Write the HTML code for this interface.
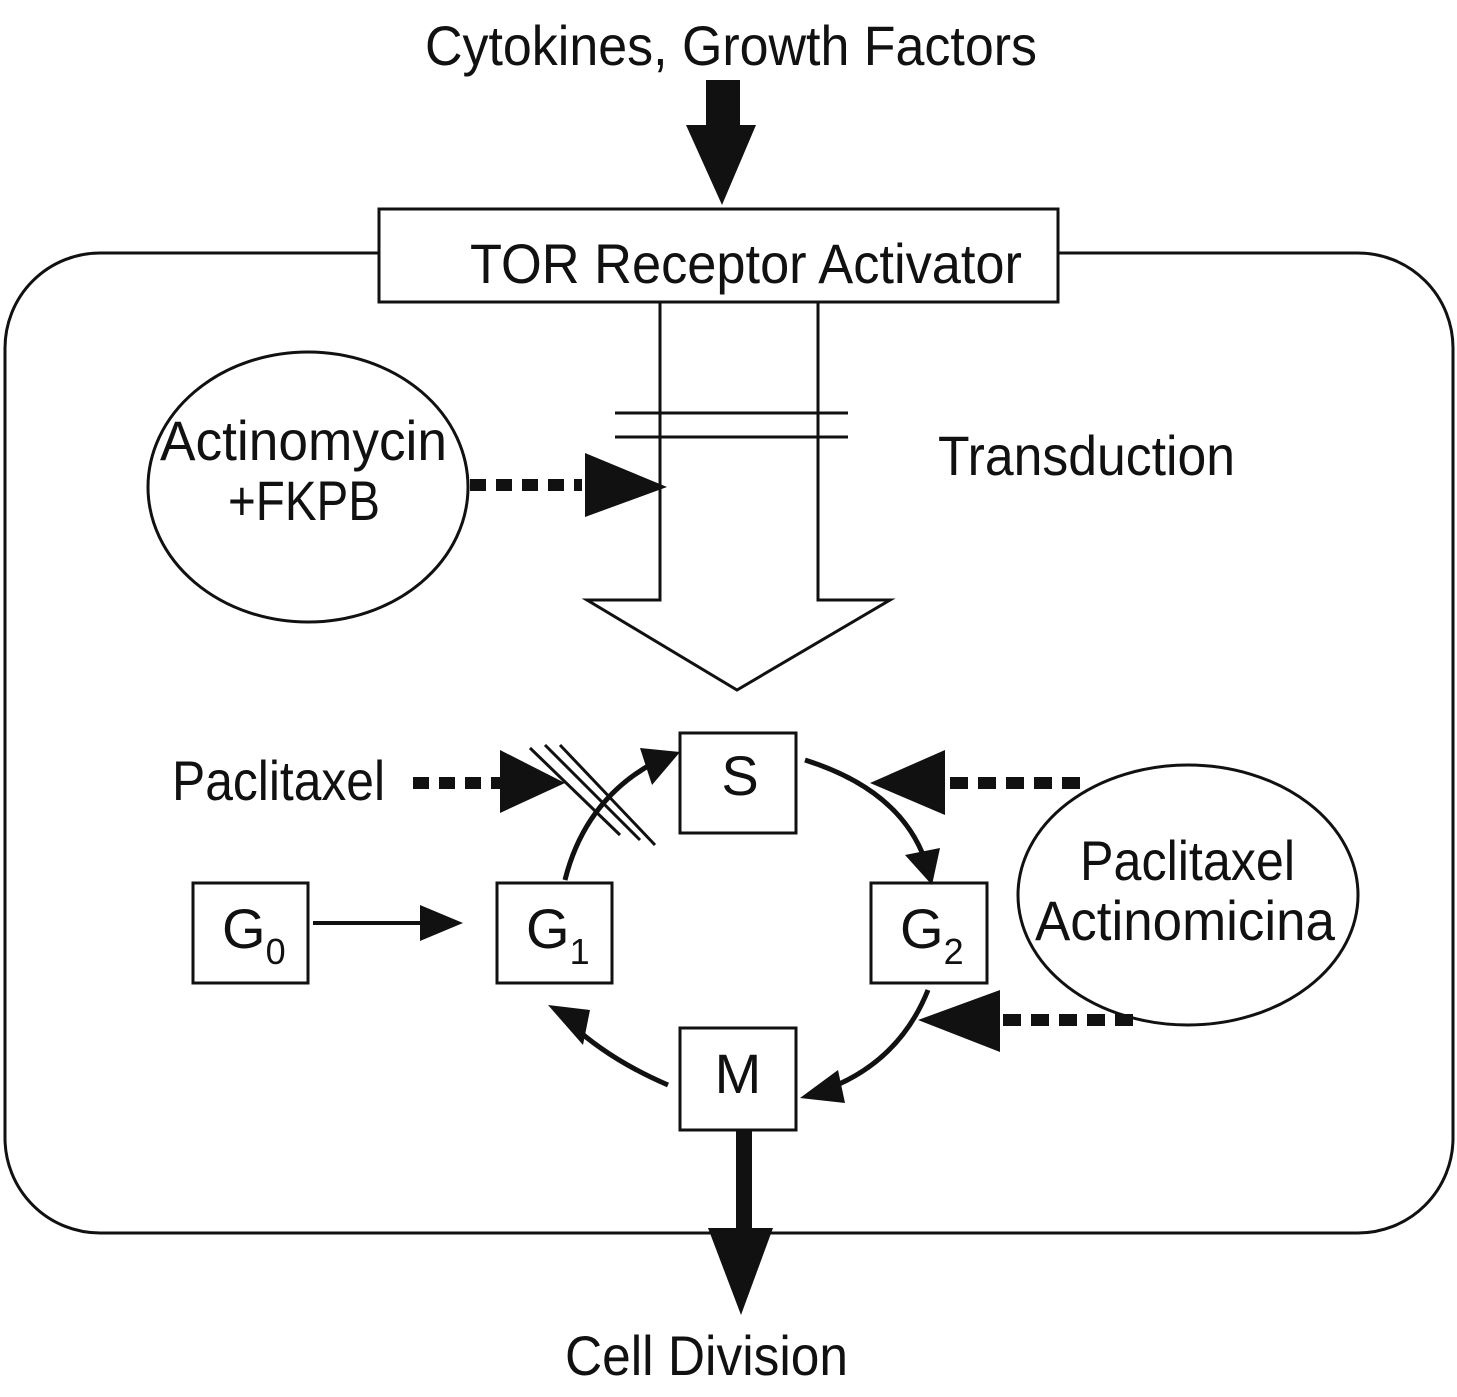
<!DOCTYPE html>
<html><head><meta charset="utf-8"><style>html,body{margin:0;padding:0;background:#fff}svg{display:block}text{font-family:"Liberation Sans Narrow","Liberation Sans",sans-serif;fill:#111}</style></head>
<body>
<svg width="1457" height="1397" viewBox="0 0 1457 1397" xmlns="http://www.w3.org/2000/svg">
<g stroke="#111" fill="none" stroke-width="3">
<rect x="5" y="253" width="1448" height="980" rx="95"/>
<rect x="379" y="209" width="679" height="93" fill="#fff"/>
<polyline points="660,302 660,600 587,600 737,690 890,600 818,600 818,302"/>
<line x1="615" y1="413" x2="848" y2="413"/>
<line x1="615" y1="437" x2="848" y2="437"/>
<ellipse cx="308" cy="487" rx="160" ry="135"/>
<ellipse cx="1188" cy="895" rx="170" ry="130"/>
<rect x="680" y="733" width="116" height="100"/>
<rect x="193" y="883" width="115" height="100"/>
<rect x="497" y="883" width="115" height="100"/>
<rect x="871" y="883" width="116" height="100"/>
<rect x="680" y="1028" width="116" height="102"/>
<line x1="313" y1="923" x2="425" y2="923" stroke-width="4"/>
<path d="M565,880 Q585,800 655,762" stroke-width="5"/>
<path d="M805,760 Q900,790 925,860" stroke-width="5"/>
<path d="M928,990 Q900,1060 830,1088" stroke-width="5"/>
<path d="M668,1085 Q610,1060 572,1025" stroke-width="5"/>
<line x1="530" y1="748" x2="620" y2="835" stroke-width="3"/>
<line x1="545" y1="745" x2="640" y2="840" stroke-width="3"/>
<line x1="560" y1="745" x2="655" y2="845" stroke-width="3"/>
<g stroke-width="12">
<line x1="470" y1="485" x2="582" y2="485" stroke-dasharray="16,10"/>
<line x1="413" y1="783" x2="500" y2="783" stroke-dasharray="16,10"/>
<line x1="950" y1="783" x2="1080" y2="783" stroke-dasharray="18,10"/>
<line x1="1003" y1="1020" x2="1133" y2="1020" stroke-dasharray="18,10"/>
</g>
</g>
<g fill="#111">
<rect x="706" y="80" width="34" height="48"/>
<polygon points="686,125 756,125 722,205"/>
<polygon points="585,453 585,517 667,487"/>
<polygon points="500,750 500,813 565,783"/>
<polygon points="945,750 945,815 870,783"/>
<polygon points="1000,990 1000,1052 918,1020"/>
<polygon points="420,905 420,941 463,923"/>
<polygon points="640,748 680,752 652,785"/>
<polygon points="905,855 940,848 932,885"/>
<polygon points="838,1070 800,1098 845,1103"/>
<polygon points="583,1045 548,1005 590,1010"/>
<rect x="736" y="1130" width="16" height="100"/>
<polygon points="708,1228 773,1228 741,1315"/>
</g>
<g font-size="56">
<text x="425" y="65" textLength="612" lengthAdjust="spacingAndGlyphs">Cytokines, Growth Factors</text>
<text x="470" y="283" textLength="552" lengthAdjust="spacingAndGlyphs">TOR Receptor Activator</text>
<text x="938" y="475" textLength="297" lengthAdjust="spacingAndGlyphs">Transduction</text>
<text x="160" y="460" textLength="287" lengthAdjust="spacingAndGlyphs">Actinomycin</text>
<text x="228" y="520" textLength="152" lengthAdjust="spacingAndGlyphs">+FKPB</text>
<text x="172" y="800" textLength="213" lengthAdjust="spacingAndGlyphs">Paclitaxel</text>
<text x="1080" y="880" textLength="215" lengthAdjust="spacingAndGlyphs">Paclitaxel</text>
<text x="1035" y="940" textLength="300" lengthAdjust="spacingAndGlyphs">Actinomicina</text>
<text x="565" y="1375" textLength="283" lengthAdjust="spacingAndGlyphs">Cell Division</text>
<text x="740" y="795" text-anchor="middle">S</text>
<text x="738" y="1093" text-anchor="middle">M</text>
<text x="222" y="948">G<tspan font-size="36" dy="16">0</tspan></text>
<text x="526" y="948">G<tspan font-size="36" dy="16">1</tspan></text>
<text x="900" y="948">G<tspan font-size="36" dy="16">2</tspan></text>
</g>
</svg>
</body></html>
